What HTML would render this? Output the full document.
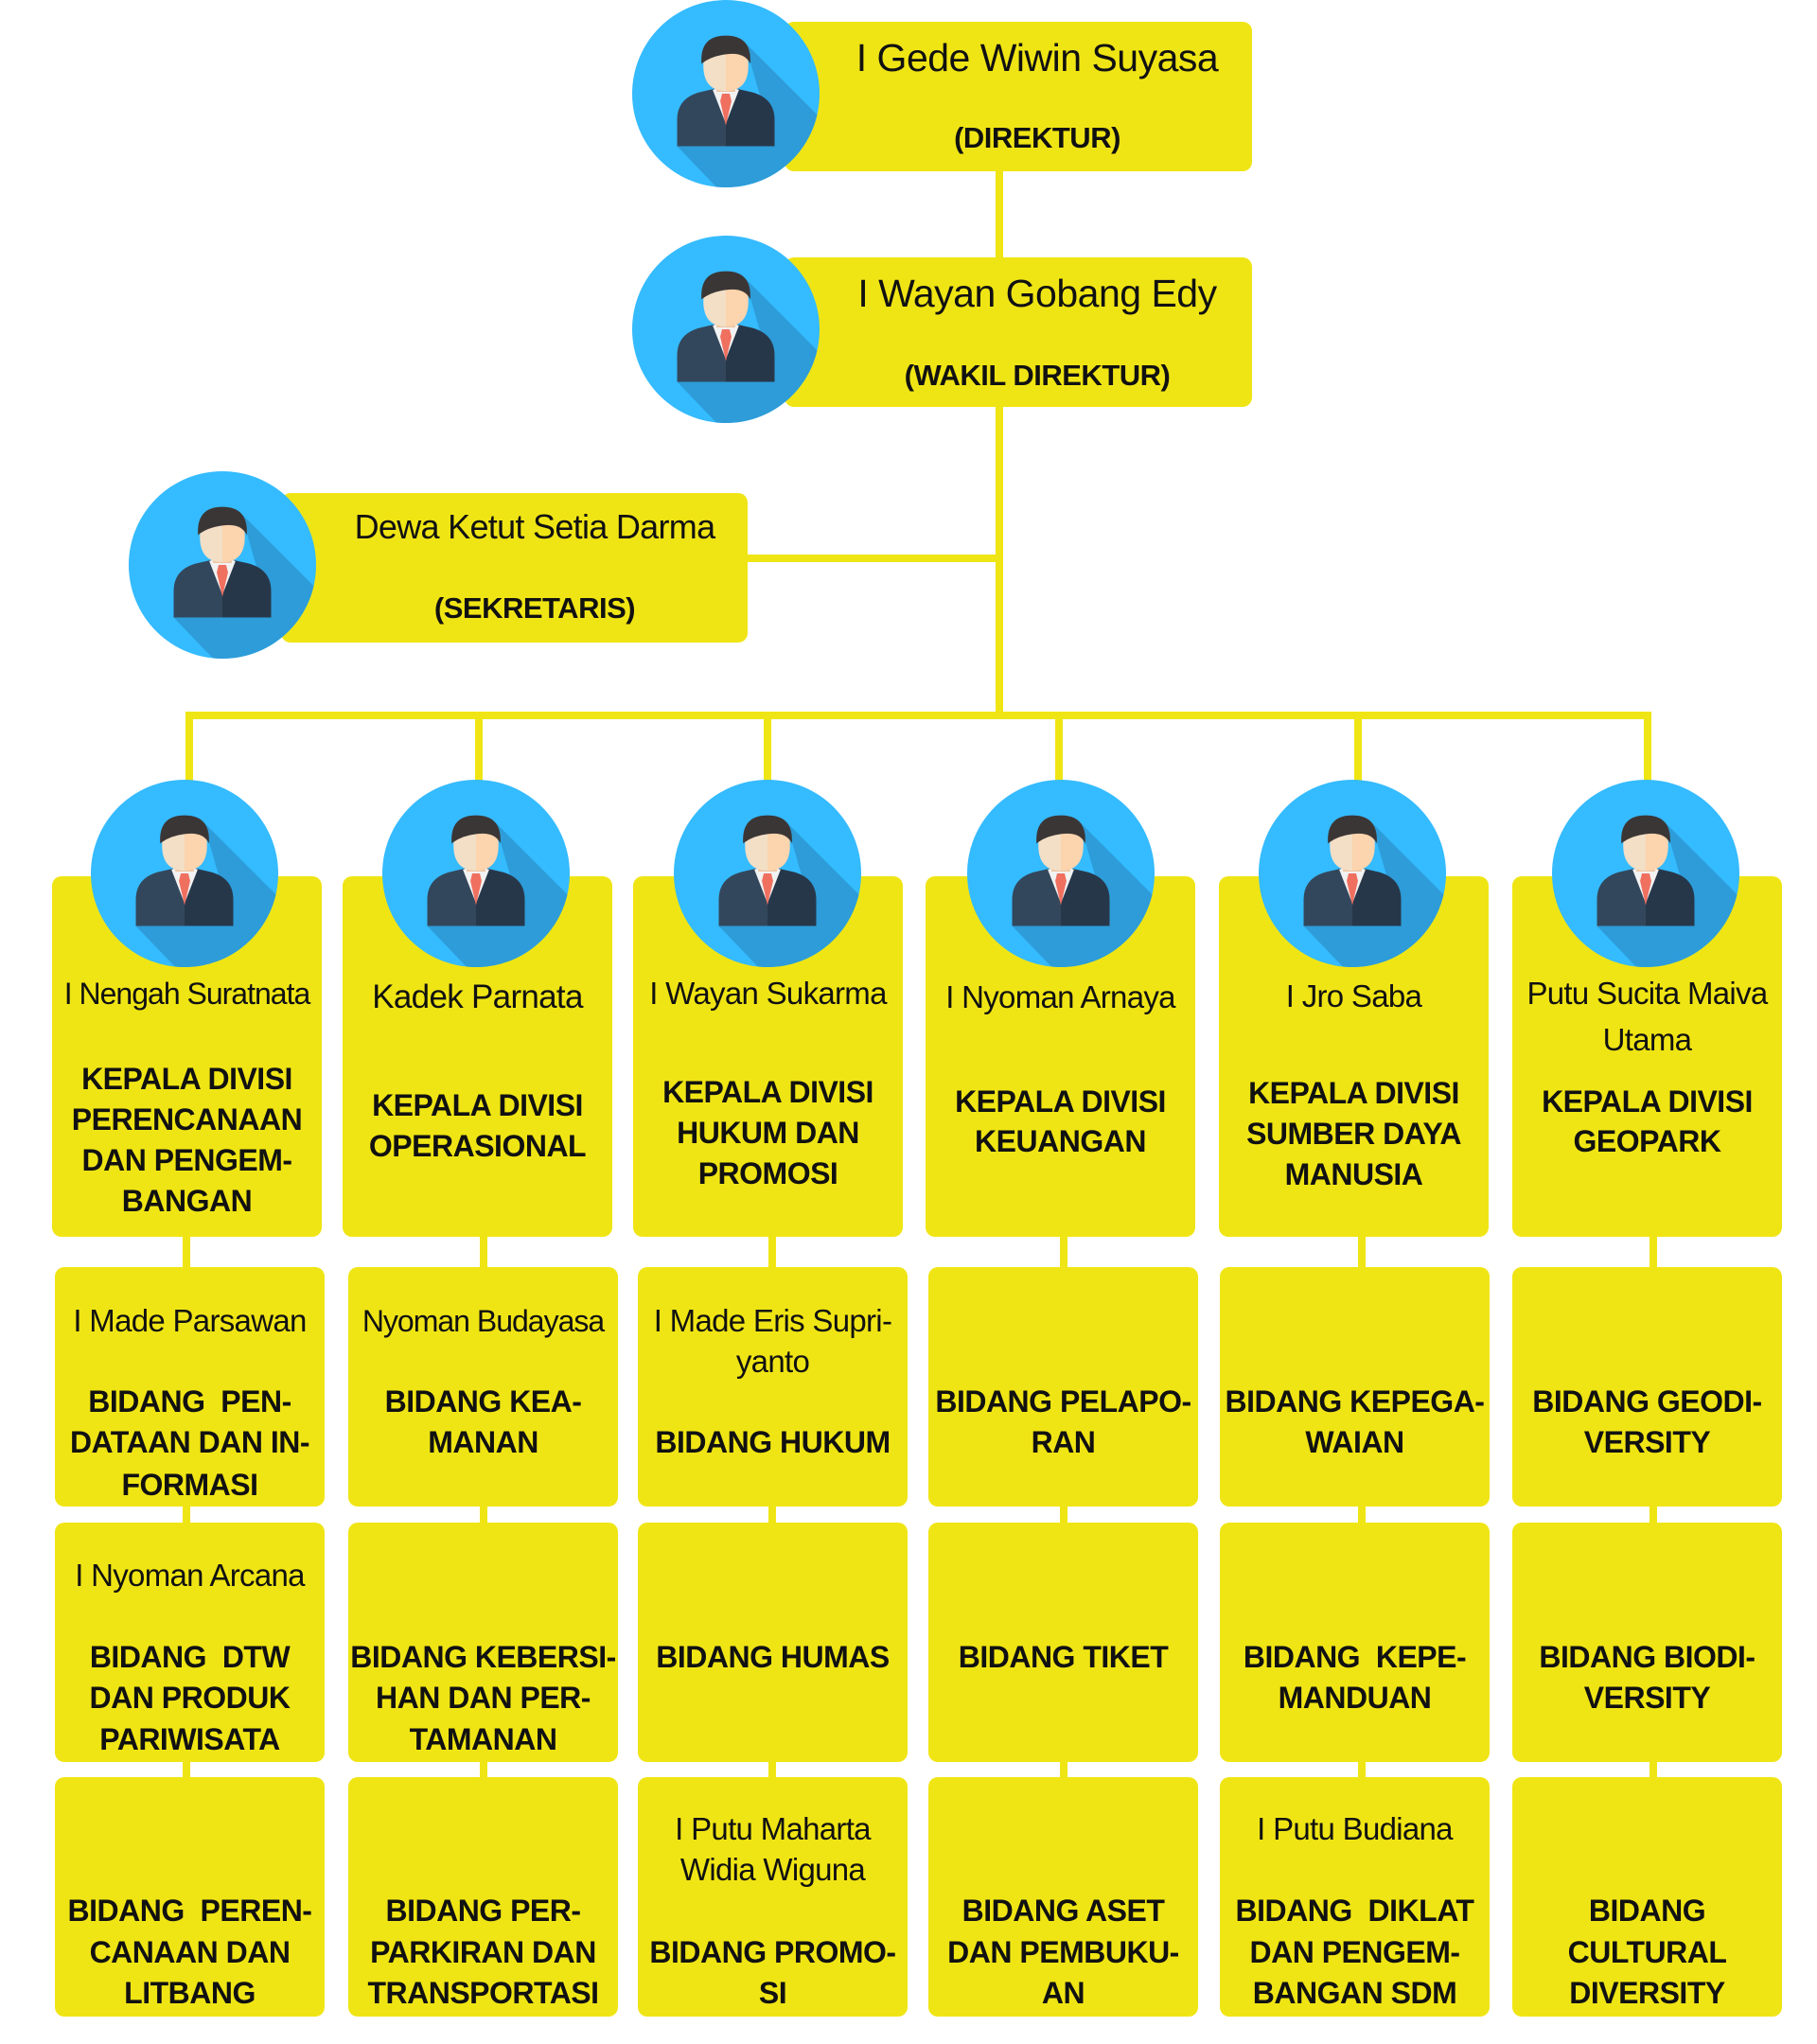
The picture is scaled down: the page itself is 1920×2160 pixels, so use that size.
<!DOCTYPE html>
<html><head><meta charset="utf-8"><style>
body{margin:0;width:1920px;height:2160px;position:relative;background:#fff;overflow:hidden;font-family:"Liberation Sans",sans-serif;color:#111}
.b{position:absolute;background:#f0e514;border-radius:10px}
.l{position:absolute;background:#f0e514}
.ic{position:absolute;width:198px;height:198px}
.t{position:absolute;text-align:center;line-height:44px;height:44px;white-space:nowrap;font-size:32px;font-weight:bold;letter-spacing:-0.5px}
.n{font-weight:normal;font-size:33px;letter-spacing:-0.7px}
.big{font-size:41px;font-weight:normal}
.sub{font-size:31px;font-weight:bold;letter-spacing:-0.5px}
</style></head><body>
<svg width="0" height="0" style="position:absolute"><defs>
<clipPath id="c"><circle cx="100" cy="100" r="100"/></clipPath>
<symbol id="p" viewBox="0 0 200 200">
<circle cx="100" cy="100" r="100" fill="#35bbff"/>
<polygon clip-path="url(#c)" fill="#2d9cd8" points="120,45 205,130 205,205 95,205 48,156 152,156"/>
<path d="M48,156 V128 Q48,104 74,98 L100,92 V156 Z" fill="#33475c"/>
<path d="M152,156 V128 Q152,104 126,98 L100,92 V156 Z" fill="#27374a"/>
<polygon points="86,96 100,132 114,96 100,90" fill="#f2f2f2"/>
<polygon points="96,100 104,100 106,108 100,134 94,108" fill="#f07060"/>
<rect x="90" y="80" width="20" height="18" fill="#eec6a4"/>
<path d="M100,43 Q76,43 76,70 Q76,97 100,97 Z" fill="#f3dfc6"/>
<path d="M100,43 Q124,43 124,70 Q124,97 100,97 Z" fill="#fcd4ad"/>
<path d="M74,68 Q72,38 100,38 Q128,38 126,68 Q120,55 100,58 Q84,60 74,68Z" fill="#3b3636"/>
</symbol></defs></svg>

<!-- connectors -->
<div class="l" style="left:1052px;top:180px;width:8px;height:580px"></div>
<div class="l" style="left:780px;top:586px;width:276px;height:8px"></div>
<div class="l" style="left:196px;top:752px;width:1549px;height:8px"></div>
<div class="l" style="left:196px;top:752px;width:8px;height:80px"></div>
<div class="l" style="left:502px;top:752px;width:8px;height:80px"></div>
<div class="l" style="left:807px;top:752px;width:8px;height:80px"></div>
<div class="l" style="left:1115px;top:752px;width:8px;height:80px"></div>
<div class="l" style="left:1431px;top:752px;width:8px;height:80px"></div>
<div class="l" style="left:1737px;top:752px;width:8px;height:80px"></div>
<div class="l" style="left:193px;top:1300px;width:8px;height:800px"></div>
<div class="l" style="left:507px;top:1300px;width:8px;height:800px"></div>
<div class="l" style="left:812px;top:1300px;width:8px;height:800px"></div>
<div class="l" style="left:1120px;top:1300px;width:8px;height:800px"></div>
<div class="l" style="left:1435px;top:1300px;width:8px;height:800px"></div>
<div class="l" style="left:1743px;top:1300px;width:8px;height:800px"></div>

<!-- top boxes -->
<div class="b" style="left:829px;top:23px;width:494px;height:158px"></div>
<div class="b" style="left:829px;top:272px;width:494px;height:158px"></div>
<div class="b" style="left:297px;top:521px;width:493px;height:158px"></div>
<svg class="ic" style="left:668px;top:0px"><use href="#p"/></svg>
<svg class="ic" style="left:668px;top:249px"><use href="#p"/></svg>
<svg class="ic" style="left:136px;top:498px"><use href="#p"/></svg>
<div class="t big" style="left:896px;width:400px;top:39px">I Gede Wiwin Suyasa</div>
<div class="t sub" style="left:896px;width:400px;top:124px">(DIREKTUR)</div>
<div class="t big" style="left:896px;width:400px;top:288px">I Wayan Gobang Edy</div>
<div class="t sub" style="left:896px;width:400px;top:375px">(WAKIL DIREKTUR)</div>
<div class="t n" style="left:365px;width:400px;top:535px;font-size:36px">Dewa Ketut Setia Darma</div>
<div class="t sub" style="left:365px;width:400px;top:621px">(SEKRETARIS)</div>

<!-- division boxes -->
<div class="b" style="left:55px;top:926px;width:285px;height:381px"></div>
<div class="b" style="left:362px;top:926px;width:285px;height:381px"></div>
<div class="b" style="left:669px;top:926px;width:285px;height:381px"></div>
<div class="b" style="left:978px;top:926px;width:285px;height:381px"></div>
<div class="b" style="left:1288px;top:926px;width:285px;height:381px"></div>
<div class="b" style="left:1598px;top:926px;width:285px;height:381px"></div>
<svg class="ic" style="left:96px;top:824px"><use href="#p"/></svg>
<svg class="ic" style="left:404px;top:824px"><use href="#p"/></svg>
<svg class="ic" style="left:712px;top:824px"><use href="#p"/></svg>
<svg class="ic" style="left:1022px;top:824px"><use href="#p"/></svg>
<svg class="ic" style="left:1330px;top:824px"><use href="#p"/></svg>
<svg class="ic" style="left:1640px;top:824px"><use href="#p"/></svg>

<div class="t n" style="left:55px;width:285px;top:1028px;font-size:32px;letter-spacing:-1px">I Nengah Suratnata</div>
<div class="t" style="left:55px;width:285px;top:1118px">KEPALA DIVISI</div>
<div class="t" style="left:55px;width:285px;top:1161px">PERENCANAAN</div>
<div class="t" style="left:55px;width:285px;top:1204px">DAN PENGEM-</div>
<div class="t" style="left:55px;width:285px;top:1247px">BANGAN</div>

<div class="t n" style="left:362px;width:285px;top:1032px;font-size:35px">Kadek Parnata</div>
<div class="t" style="left:362px;width:285px;top:1146px">KEPALA DIVISI</div>
<div class="t" style="left:362px;width:285px;top:1189px">OPERASIONAL</div>

<div class="t n" style="left:669px;width:285px;top:1028px">I Wayan Sukarma</div>
<div class="t" style="left:669px;width:285px;top:1132px">KEPALA DIVISI</div>
<div class="t" style="left:669px;width:285px;top:1175px">HUKUM DAN</div>
<div class="t" style="left:669px;width:285px;top:1218px">PROMOSI</div>

<div class="t n" style="left:978px;width:285px;top:1032px">I Nyoman Arnaya</div>
<div class="t" style="left:978px;width:285px;top:1142px">KEPALA DIVISI</div>
<div class="t" style="left:978px;width:285px;top:1184px">KEUANGAN</div>

<div class="t n" style="left:1288px;width:285px;top:1031px">I Jro Saba</div>
<div class="t" style="left:1288px;width:285px;top:1133px">KEPALA DIVISI</div>
<div class="t" style="left:1288px;width:285px;top:1176px">SUMBER DAYA</div>
<div class="t" style="left:1288px;width:285px;top:1219px">MANUSIA</div>

<div class="t n" style="left:1598px;width:285px;top:1028px">Putu Sucita Maiva</div>
<div class="t n" style="left:1598px;width:285px;top:1077px">Utama</div>
<div class="t" style="left:1598px;width:285px;top:1142px">KEPALA DIVISI</div>
<div class="t" style="left:1598px;width:285px;top:1184px">GEOPARK</div>

<!-- bidang boxes -->
<div class="b" style="left:58px;top:1339px;width:285px;height:253px"></div>
<div class="b" style="left:368px;top:1339px;width:285px;height:253px"></div>
<div class="b" style="left:674px;top:1339px;width:285px;height:253px"></div>
<div class="b" style="left:981px;top:1339px;width:285px;height:253px"></div>
<div class="b" style="left:1289px;top:1339px;width:285px;height:253px"></div>
<div class="b" style="left:1598px;top:1339px;width:285px;height:253px"></div>
<div class="b" style="left:58px;top:1609px;width:285px;height:253px"></div>
<div class="b" style="left:368px;top:1609px;width:285px;height:253px"></div>
<div class="b" style="left:674px;top:1609px;width:285px;height:253px"></div>
<div class="b" style="left:981px;top:1609px;width:285px;height:253px"></div>
<div class="b" style="left:1289px;top:1609px;width:285px;height:253px"></div>
<div class="b" style="left:1598px;top:1609px;width:285px;height:253px"></div>
<div class="b" style="left:58px;top:1878px;width:285px;height:253px"></div>
<div class="b" style="left:368px;top:1878px;width:285px;height:253px"></div>
<div class="b" style="left:674px;top:1878px;width:285px;height:253px"></div>
<div class="b" style="left:981px;top:1878px;width:285px;height:253px"></div>
<div class="b" style="left:1289px;top:1878px;width:285px;height:253px"></div>
<div class="b" style="left:1598px;top:1878px;width:285px;height:253px"></div>

<!-- row1 -->
<div class="t n" style="left:58px;width:285px;top:1374px">I Made Parsawan</div>
<div class="t" style="left:58px;width:285px;top:1459px">BIDANG&nbsp; PEN-</div>
<div class="t" style="left:58px;width:285px;top:1502px">DATAAN DAN IN-</div>
<div class="t" style="left:58px;width:285px;top:1547px">FORMASI</div>

<div class="t n" style="left:368px;width:285px;top:1374px;font-size:32px;letter-spacing:-1px">Nyoman Budayasa</div>
<div class="t" style="left:368px;width:285px;top:1459px">BIDANG KEA-</div>
<div class="t" style="left:368px;width:285px;top:1502px">MANAN</div>

<div class="t n" style="left:674px;width:285px;top:1374px">I Made Eris Supri-</div>
<div class="t n" style="left:674px;width:285px;top:1417px">yanto</div>
<div class="t" style="left:674px;width:285px;top:1502px">BIDANG HUKUM</div>

<div class="t" style="left:981px;width:285px;top:1459px">BIDANG PELAPO-</div>
<div class="t" style="left:981px;width:285px;top:1502px">RAN</div>

<div class="t" style="left:1289px;width:285px;top:1459px">BIDANG KEPEGA-</div>
<div class="t" style="left:1289px;width:285px;top:1502px">WAIAN</div>

<div class="t" style="left:1598px;width:285px;top:1459px">BIDANG GEODI-</div>
<div class="t" style="left:1598px;width:285px;top:1502px">VERSITY</div>

<!-- row2 -->
<div class="t n" style="left:58px;width:285px;top:1643px">I Nyoman Arcana</div>
<div class="t" style="left:58px;width:285px;top:1729px">BIDANG&nbsp; DTW</div>
<div class="t" style="left:58px;width:285px;top:1772px">DAN PRODUK</div>
<div class="t" style="left:58px;width:285px;top:1816px">PARIWISATA</div>

<div class="t" style="left:368px;width:285px;top:1729px">BIDANG KEBERSI-</div>
<div class="t" style="left:368px;width:285px;top:1772px">HAN DAN PER-</div>
<div class="t" style="left:368px;width:285px;top:1816px">TAMANAN</div>

<div class="t" style="left:674px;width:285px;top:1729px">BIDANG HUMAS</div>
<div class="t" style="left:981px;width:285px;top:1729px">BIDANG TIKET</div>

<div class="t" style="left:1289px;width:285px;top:1729px">BIDANG&nbsp; KEPE-</div>
<div class="t" style="left:1289px;width:285px;top:1772px">MANDUAN</div>

<div class="t" style="left:1598px;width:285px;top:1729px">BIDANG BIODI-</div>
<div class="t" style="left:1598px;width:285px;top:1772px">VERSITY</div>

<!-- row3 -->
<div class="t" style="left:58px;width:285px;top:1997px">BIDANG&nbsp; PEREN-</div>
<div class="t" style="left:58px;width:285px;top:2041px">CANAAN DAN</div>
<div class="t" style="left:58px;width:285px;top:2084px">LITBANG</div>

<div class="t" style="left:368px;width:285px;top:1997px">BIDANG PER-</div>
<div class="t" style="left:368px;width:285px;top:2041px">PARKIRAN DAN</div>
<div class="t" style="left:368px;width:285px;top:2084px">TRANSPORTASI</div>

<div class="t n" style="left:674px;width:285px;top:1911px">I Putu Maharta</div>
<div class="t n" style="left:674px;width:285px;top:1954px">Widia Wiguna</div>
<div class="t" style="left:674px;width:285px;top:2041px">BIDANG PROMO-</div>
<div class="t" style="left:674px;width:285px;top:2084px">SI</div>

<div class="t" style="left:981px;width:285px;top:1997px">BIDANG ASET</div>
<div class="t" style="left:981px;width:285px;top:2041px">DAN PEMBUKU-</div>
<div class="t" style="left:981px;width:285px;top:2084px">AN</div>

<div class="t n" style="left:1289px;width:285px;top:1911px">I Putu Budiana</div>
<div class="t" style="left:1289px;width:285px;top:1997px">BIDANG&nbsp; DIKLAT</div>
<div class="t" style="left:1289px;width:285px;top:2041px">DAN PENGEM-</div>
<div class="t" style="left:1289px;width:285px;top:2084px">BANGAN SDM</div>

<div class="t" style="left:1598px;width:285px;top:1997px">BIDANG</div>
<div class="t" style="left:1598px;width:285px;top:2041px">CULTURAL</div>
<div class="t" style="left:1598px;width:285px;top:2084px">DIVERSITY</div>
</body></html>
